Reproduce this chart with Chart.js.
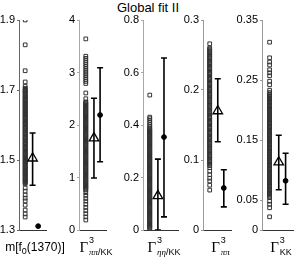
<!DOCTYPE html>
<html><head><meta charset="utf-8">
<script src="https://cdn.jsdelivr.net/npm/chart.js@4/dist/chart.umd.min.js"></script>
<style>
html,body{margin:0;padding:0;width:300px;height:258px;overflow:hidden;background:#fff;position:relative;font-family:'Liberation Sans',Arial,sans-serif}
canvas{position:absolute;top:0}
#title{position:absolute;left:0;width:296px;top:1px;text-align:center;font-size:13px;line-height:13px;color:#000}
.lab{position:absolute;top:233px;transform:translateX(-50%);display:flex;align-items:flex-start;white-space:nowrap;color:#000}
.G{font-family:'Liberation Serif',serif;font-size:15px;line-height:15px;margin-top:7px}
.st{display:flex;flex-direction:column;font-size:9px;line-height:9px;margin-left:1px}
.st .s1{margin-top:3px}
.st .s2{margin-top:3px}
.gr{font-family:'Liberation Serif',serif;font-style:italic}
.m{position:absolute;top:241px;transform:translateX(-50%);font-size:12px;line-height:12px;white-space:nowrap;color:#000}
.m sub{font-size:9px;vertical-align:-3px;line-height:0}
</style></head>
<body>
<div id="title">Global fit II</div>
<script>
// ---------- data ----------
const yMin = [1.3, 0, 0, 0, 0];
const yMax = [1.9, 4, 0.8, 0.3, 0.35];
const yTicks = [
  [1.3, 1.5, 1.7, 1.9],
  [0, 1, 2, 3, 4],
  [0, 0.2, 0.4, 0.6, 0.8],
  [0, 0.1, 0.2, 0.3],
  [0, 0.05, 0.15, 0.25, 0.35]
];
const massSamples = [1.9,1.829,1.755,1.723,1.711,
 1.705,1.699,1.694,1.688,1.681,1.676,1.670,1.664,1.659,1.652,1.647,1.641,1.635,1.630,1.623,1.618,1.612,1.606,1.601,1.594,1.589,1.583,1.577,1.572,1.565,1.560,1.554,1.548,1.543,1.536,1.531,1.525,1.519,1.514,1.507,1.502,1.496,1.490,1.485,1.478,1.473,1.467,1.461,1.456,1.449,1.444,1.438,1.432,
 1.702,1.6965,1.691,1.6845,1.679,1.673,1.6665,1.6615,1.655,1.6495,1.644,1.638,1.6325,1.626,1.6205,1.615,1.609,1.6035,1.597,1.5915,1.586,1.580,1.5745,1.568,1.5625,1.557,1.551,1.5455,1.539,1.5335,1.528,1.522,1.5165,1.510,1.5045,1.499,1.493,1.4875,1.481,1.4755,1.470,1.464,1.4585,1.452,1.4465,1.441,1.435,
 1.420,1.411,1.400,1.391,1.383,1.371,1.357,1.346,1.337];
const gPiPiKKSamples = [3.64,3.31,3.27,3.23,3.19,3.15,3.11,3.07,3.03,2.99,2.95,2.91,2.87,2.83,2.79,2.61,2.50,
 2.44,2.405,2.37,2.336,2.30,2.265,2.23,2.196,2.16,2.125,2.09,2.056,2.02,1.985,1.95,1.916,1.88,1.845,1.81,1.776,1.74,1.705,1.67,1.636,1.60,1.565,1.53,1.496,1.46,1.425,1.39,1.356,1.32,1.285,1.25,1.216,1.18,1.145,1.11,1.076,1.04,1.005,0.97,0.936,0.90,0.865,0.83,0.796,0.76,
 2.422,2.388,2.352,2.318,2.283,2.248,2.213,2.178,2.142,2.108,2.073,2.038,2.003,1.968,1.933,1.898,1.862,1.828,1.793,1.758,1.722,1.688,1.653,1.618,1.583,1.548,1.513,1.478,1.443,1.408,1.373,1.338,1.303,1.268,1.233,1.198,1.163,1.128,1.093,1.058,1.023,0.988,0.953,0.918,0.883,0.848,0.813,0.778,
 0.71,0.66,0.60,0.55,0.49,0.43,0.37,0.31,0.25,0.19];
const gEtaEtaKKSamples = [0.514,0.430,0.424,0.417,0.409,0.402,0.396,0.389,0.381,0.375,0.368,0.360,0.354,0.347,0.339,0.333,0.326,0.318,0.312,0.305,0.297,0.291,0.284,0.276,0.270,0.263,0.255,0.249,0.242,0.234,0.228,0.221,0.213,0.207,0.200,0.192,0.186,0.179,0.171,0.165,0.158,0.150,0.144,0.137,0.129,0.123,0.116,0.108,0.102,0.095,0.087,0.081,0.074,0.066,0.060,0.053,0.045,0.039,0.032,0.024,0.018,0.011,0.004,
 0.385,0.378,0.371,0.364,0.357,0.350,0.343,0.336,0.329,0.322,0.315,0.308,0.301,0.294,0.287,0.280,0.273,0.266,0.259,0.252,0.245,0.238,0.231,0.224,0.217,0.210,0.203,0.196,0.189,0.182,0.175,0.168,0.161,0.154,0.147,0.140,0.133,0.126,0.119,0.112,0.105,0.098,0.091,0.084,0.077,0.070,0.063,0.056,0.049,0.042,0.035,0.028,0.021,0.014,0.008];
const gPiPiSamples = [0.266,0.260,0.257,0.253,0.250,0.246,0.243,0.239,0.236,0.232,0.229,0.225,0.222,0.218,0.215,0.211,0.208,0.204,0.201,0.197,0.194,0.190,0.187,0.183,0.180,0.176,0.173,0.169,0.166,0.162,0.159,0.155,0.152,0.148,0.145,0.141,0.138,0.134,0.131,0.127,0.124,0.120,0.117,0.113,0.110,0.106,0.103,0.099,0.096,0.092,
 0.2585,0.255,0.2515,0.248,0.2445,0.241,0.2375,0.234,0.2305,0.227,0.2235,0.220,0.2165,0.213,0.2095,0.206,0.2025,0.199,0.1955,0.192,0.1885,0.185,0.1815,0.178,0.1745,0.171,0.1675,0.164,0.1605,0.157,0.1535,0.150,0.1465,0.143,0.1395,0.136,0.1325,0.129,0.1255,0.122,0.1185,0.115,0.1115,0.108,0.1045,0.101,0.0975,0.094,
 0.089,0.084,0.079,0.074,0.070,0.064,0.057];
const gKKSamples = [0.313,0.287,0.280,0.275,0.267,0.262,0.257,0.248,0.242,0.233,0.229,
 0.226,0.222,0.219,0.215,0.212,0.208,0.205,0.201,0.198,0.194,0.191,0.187,0.184,0.180,0.177,0.173,0.170,0.166,0.163,0.159,0.156,0.152,0.149,0.145,0.142,0.138,0.135,0.131,0.128,0.124,0.121,0.117,0.114,0.110,0.107,0.103,0.100,0.096,0.093,0.089,0.086,0.082,0.079,0.075,0.072,0.068,0.065,0.061,0.058,0.054,
 0.224,0.2205,0.217,0.2135,0.210,0.2065,0.203,0.1995,0.196,0.1925,0.189,0.1855,0.182,0.1785,0.175,0.1715,0.168,0.1645,0.161,0.1575,0.154,0.1505,0.147,0.1435,0.140,0.1365,0.133,0.1295,0.126,0.1225,0.119,0.1155,0.112,0.1085,0.105,0.1015,0.098,0.0945,0.091,0.0875,0.084,0.0805,0.077,0.0735,0.070,0.0665,0.063,0.0595,0.056,
 0.048,0.043,0.037,0.022];
const triangleValue = [1.505, 1.75, 0.13, 0.170, 0.113];
const triangleLow   = [1.428, 0.99, 0.0, 0.126, 0.067];
const triangleHigh  = [1.577, 2.51, 0.27, 0.216, 0.158];
const circleValue = [1.311, 2.19, 0.354, 0.060, 0.082];
const circleLow   = [null, 1.30, 0.05, 0.033, 0.043];
const circleHigh  = [null, 3.09, 0.655, 0.086, 0.128];

// ---------- layout ----------
const samples = [massSamples, gPiPiKKSamples, gEtaEtaKKSamples, gPiPiSamples, gKKSamples];
const axisX = [19, 79, 143, 203, 262];
const plotW = [34, 34, 42, 35, 38];
const xMax  = [4.4, 4.0, 5.2, 4.2, 4.1];
const X_SQ = 1, X_TRI = 2.2, X_CIR = 3.1;
const axisColor = ['#666', '#a8a8a8', '#a8a8a8', '#999', '#999'];
const LW = 40;

function makePanel(i) {
  const cv = document.createElement('canvas');
  cv.width = LW + plotW[i]; cv.height = 258;
  cv.style.left = (axisX[i] - LW) + 'px';
  cv.style.width = cv.width + 'px'; cv.style.height = '258px';
  document.body.appendChild(cv);
  const ds = [];
  ds.push({data:[{x:X_TRI,y:triangleValue[i]}], pointStyle:'triangle', pointRadius:5.5,
    pointBorderColor:'#000', pointBackgroundColor:'rgba(0,0,0,0)', pointBorderWidth:1.3});
  ds.push({data:[{x:X_CIR,y:circleValue[i]}], pointStyle:'circle', pointRadius:2.4,
    pointBorderColor:'#000', pointBackgroundColor:'#000', pointBorderWidth:1});
  ds.push({data:[{x:X_TRI,y:triangleLow[i]},{x:X_TRI,y:triangleHigh[i]}], showLine:true,
    borderColor:'#000', borderWidth:1.6, pointStyle:'line', pointRadius:3,
    pointBorderColor:'#000', pointBorderWidth:1.6});
  if (circleLow[i] !== null) {
    ds.push({data:[{x:X_CIR,y:circleLow[i]},{x:X_CIR,y:circleHigh[i]}], showLine:true,
      borderColor:'#000', borderWidth:1.6, pointStyle:'line', pointRadius:3,
      pointBorderColor:'#000', pointBorderWidth:1.6});
  }
  ds.push({data: samples[i].map(v => ({x:X_SQ, y:v})), pointStyle:'rect', pointRadius:2.6,
    pointBorderColor:'#333', pointBackgroundColor:'rgba(0,0,0,0)', pointBorderWidth:1});
  new Chart(cv, {
    type:'scatter',
    data:{datasets:ds},
    options:{
      responsive:false, animation:false, devicePixelRatio:1,
      layout:{padding:{top:20,bottom:28,left:0,right:0}},
      plugins:{legend:{display:false}, tooltip:{enabled:false}},
      scales:{
        x:{type:'linear', min:0, max:xMax[i], ticks:{display:false},
           grid:{display:false, drawTicks:false}, border:{display:true, color:'#333', width:1},
           afterFit:s=>{s.height=0;}},
        y:{type:'linear', min:yMin[i], max:yMax[i],
           afterBuildTicks:s=>{s.ticks = yTicks[i].map(v=>({value:v}));},
           afterFit:s=>{s.width=LW;},
           ticks:{font:{family:'Liberation Sans', size:11}, color:'#000', padding:2, callback:v=>String(v)},
           grid:{display:true, drawOnChartArea:false, drawTicks:true, tickLength:2, color:axisColor[i]},
           border:{display:true, color:axisColor[i], width:1}}
      }
    }
  });
}
for (let i = 0; i < 5; i++) makePanel(i);

// ---------- axis names ----------
function addLabel(cx, html) {
  const d = document.createElement('div');
  d.className = 'lab'; d.style.left = cx + 'px'; d.innerHTML = html;
  document.body.appendChild(d);
}
const m = document.createElement('div');
m.className = 'm'; m.style.left = '35px';
m.innerHTML = 'm[f<sub>0</sub>(1370)]';
document.body.appendChild(m);
const subs = ['<span class="gr">ππ</span>/KK', '<span class="gr">ηη</span>/KK', '<span class="gr">ππ</span>', 'KK'];
for (let k = 0; k < 4; k++) {
  const i = k + 1;
  addLabel(axisX[i] + plotW[i] / 2, '<span class="G">Γ</span><span class="st"><span class="s1">3</span><span class="s2">' + subs[k] + '</span></span>');
}
</script>
</body></html>
